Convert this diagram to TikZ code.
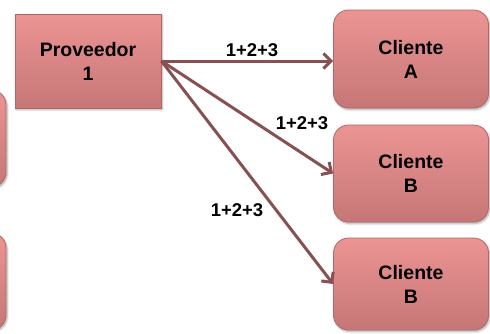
\documentclass[tikz,border=0pt]{standalone}
\usepackage{fontspec}
\setmainfont{Liberation Sans}
\usetikzlibrary{arrows.meta,shadows.blur}
\definecolor{boxtop}{RGB}{236,148,148}
\definecolor{boxbot}{RGB}{198,118,118}
\definecolor{boxline}{RGB}{180,102,102}
\definecolor{flow}{RGB}{136,80,80}
\begin{document}
\begin{tikzpicture}[x=1pt,y=-1pt,
  box/.style={draw=boxline, line width=0.8pt, top color=boxtop, bottom color=boxbot,
    blur shadow={shadow xshift=1.2pt, shadow yshift=-1.6pt, shadow blur steps=5, shadow opacity=35},
    align=center, font=\fontsize{19.5}{24}\selectfont\bfseries, inner sep=0pt},
  rbox/.style={box, rounded corners=15pt},
  flowarrow/.style={draw=flow, line width=3pt, -{Straight Barb[length=7.5pt,width=15pt]}},
  qty/.style={font=\fontsize{18.5}{20}\selectfont\bfseries, inner sep=0pt}]
  \useasboundingbox (0,0) rectangle (490,333);

  % supplier and clients
  \node[box, minimum width=146pt, minimum height=94pt] (prov) at (88,61) {Proveedor\\1};
  \node[rbox, minimum width=155pt, minimum height=98pt] (ca) at (411,59) {Cliente\\A};
  \node[rbox, minimum width=155pt, minimum height=97pt] (cb1) at (411,173.5) {Cliente\\B};
  \node[rbox, minimum width=155pt, minimum height=92pt] (cb2) at (411,284) {Cliente\\B};

  % boxes running off the left side
  \node[rbox, minimum width=60pt, minimum height=97pt] (l1) at (-24,138.5) {};
  \node[rbox, minimum width=60pt, minimum height=97pt] (l2) at (-24,281.5) {};

  % deliveries
  \draw[flowarrow] (prov.east) -- (ca.west |- prov.east);
  \draw[flowarrow] (prov.east) -- (cb1.west);
  \draw[flowarrow] (prov.east) -- (cb2.west);

  \node[qty] (q1) at (252,50) {1+2+3};
  \node[qty] (q2) at (302,123) {1+2+3};
  \node[qty] (q3) at (237,210) {1+2+3};
\end{tikzpicture}
\end{document}
